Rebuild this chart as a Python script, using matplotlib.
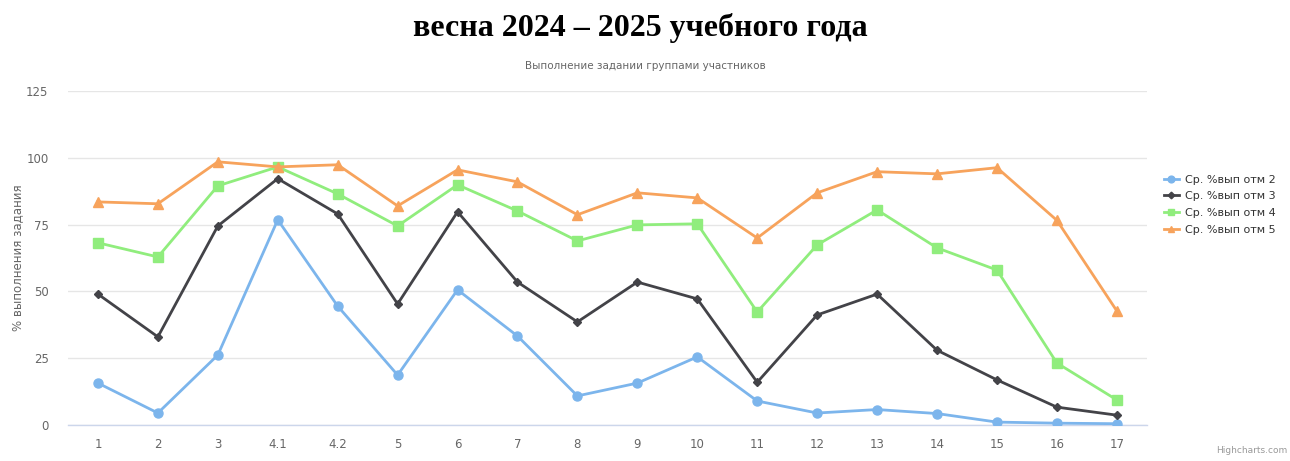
import matplotlib
matplotlib.use('Agg')
import matplotlib.pyplot as plt

categories = ['1', '2', '3', '4.1', '4.2', '5', '6', '7', '8', '9', '10',
              '11', '12', '13', '14', '15', '16', '17']

otm2 = [15.7, 4.5, 26.2, 76.8, 44.5, 18.7, 50.6, 33.3, 10.9, 15.7, 25.5,
        9.0, 4.5, 5.8, 4.3, 1.1, 0.7, 0.5]
otm3 = [49.0, 33.0, 74.5, 92.2, 79.0, 45.3, 79.8, 53.5, 38.6, 53.5, 47.2,
        16.0, 41.2, 49.0, 28.0, 16.9, 6.7, 3.7]
otm4 = [68.2, 62.9, 89.5, 96.6, 86.5, 74.5, 89.9, 80.1, 68.9, 74.9, 75.3,
        42.3, 67.4, 80.5, 66.3, 58.0, 23.2, 9.4]
otm5 = [83.5, 82.8, 98.5, 96.6, 97.4, 82.0, 95.5, 91.0, 78.7, 86.9, 85.0,
        70.0, 86.9, 94.8, 94.0, 96.3, 76.6, 42.7]

series = [
    ('Ср. %вып отм 2', otm2, '#7cb5ec', 'o', 6.5),
    ('Ср. %вып отм 3', otm3, '#434348', 'D', 4.5),
    ('Ср. %вып отм 4', otm4, '#90ed7d', 's', 6.5),
    ('Ср. %вып отм 5', otm5, '#f7a35c', '^', 6.5),
]

plt.rcParams['font.family'] = ['DejaVu Sans']

fig = plt.figure(figsize=(12.9, 4.61), dpi=100)
ax = fig.add_axes([0.0527, 0.078, 0.8363, 0.7246])

x = list(range(len(categories)))
for name, vals, color, marker, ms in series:
    ax.plot(x, vals, color=color, marker=marker, markersize=ms, linewidth=2,
            label=name, zorder=3)

ax.set_xlim(-0.5, len(categories) - 0.5)
ax.set_ylim(0, 125)
ax.set_yticks([0, 25, 50, 75, 100, 125])
ax.set_xticks(x)
ax.set_xticklabels(categories)
ax.tick_params(axis='both', length=0, labelsize=8.5, colors='#666666')
ax.tick_params(axis='x', pad=9)
ax.tick_params(axis='y', pad=14)
ax.grid(axis='y', color='#e6e6e6', linewidth=1)
ax.set_axisbelow(True)
for side in ['top', 'right', 'left']:
    ax.spines[side].set_visible(False)
ax.spines['bottom'].set_color('#ccd6eb')
ax.spines['bottom'].set_linewidth(1)

fig.text(0.0135, 0.44, '% выполнения задания', rotation=90, ha='center',
         va='center', fontsize=8.5, color='#666666')

fig.text(0.496, 0.94, 'весна 2024 – 2025 учебного года', ha='center', va='center',
         fontsize=23, fontweight='bold', family='Liberation Serif')
fig.text(0.5, 0.857, 'Выполнение задании группами участников', ha='center',
         va='center', fontsize=7.5, color='#666666')

leg = ax.legend(loc='center left', bbox_to_anchor=(1.012, 0.66), frameon=False,
                fontsize=8, handlelength=1.3, handletextpad=0.6,
                labelspacing=0.6, markerscale=0.75, borderaxespad=0)
for t in leg.get_texts():
    t.set_color('#333333')

fig.text(0.998, 0.012, 'Highcharts.com', ha='right', va='bottom', fontsize=6.5,
         color='#999999')

fig.savefig('out.png', dpi=100)
